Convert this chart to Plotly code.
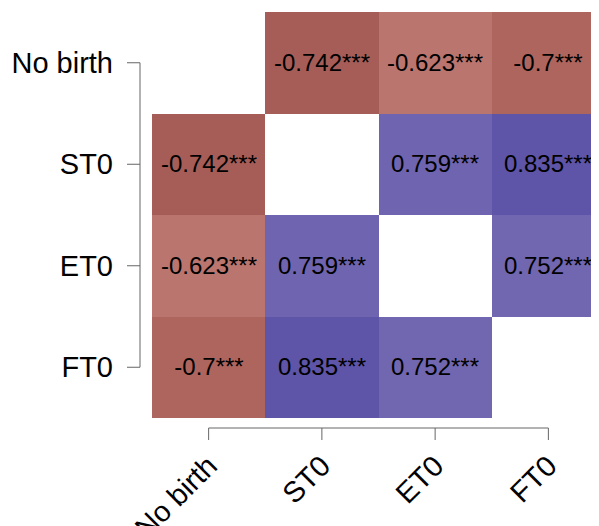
import plotly.graph_objects as go

categories = ["No birth", "ST0", "ET0", "FT0"]
corr = [
    [None, -0.742, -0.623, -0.7],
    [-0.742, None, 0.759, 0.835],
    [-0.623, 0.759, None, 0.752],
    [-0.7, 0.835, 0.752, None],
]
stars = [
    ["", "***", "***", "***"],
    ["***", "", "***", "***"],
    ["***", "***", "", "***"],
    ["***", "***", "***", ""],
]

text = [[("" if v is None else f"{v:g}{s}") for v, s in zip(rv, rs)] for rv, rs in zip(corr, stars)]

colorscale = [
    [0.0, "rgb(120,45,40)"],
    [0.129, "rgb(166,93,87)"],
    [0.15, "rgb(174,101,93)"],
    [0.1885, "rgb(185,117,110)"],
    [0.5, "rgb(255,255,255)"],
    [0.876, "rgb(113,102,176)"],
    [0.8795, "rgb(111,100,175)"],
    [0.9175, "rgb(94,84,168)"],
    [1.0, "rgb(60,50,145)"],
]

fig = go.Figure(go.Heatmap(
    z=corr, x=categories, y=categories, text=text,
    texttemplate="%{text}", textfont=dict(size=24, color="black", family="Liberation Sans"),
    colorscale=colorscale, zmin=-1, zmax=1, showscale=False, hoverongaps=False,
))

line_col = "#666666"
shapes = []
# y axis line and ticks (offset left of plot)
shapes.append(dict(type="line", xref="paper", xsizemode="pixel", xanchor=0, x0=-12, x1=-12,
                   yref="y", y0=categories[0], y1=categories[-1], line=dict(color=line_col, width=1)))
for c in categories:
    shapes.append(dict(type="line", xref="paper", xsizemode="pixel", xanchor=0, x0=-25, x1=-12,
                       yref="y", y0=c, y1=c, line=dict(color=line_col, width=1)))
# x axis line and ticks (offset below plot)
shapes.append(dict(type="line", yref="paper", ysizemode="pixel", yanchor=0, y0=-10, y1=-10,
                   xref="x", x0=categories[0], x1=categories[-1], line=dict(color=line_col, width=1)))
for c in categories:
    shapes.append(dict(type="line", yref="paper", ysizemode="pixel", yanchor=0, y0=-10, y1=-22,
                       xref="x", x0=c, x1=c, line=dict(color=line_col, width=1)))

fig.update_layout(
    width=599, height=526,
    margin=dict(l=144, r=2, t=4, b=116),
    plot_bgcolor="white", paper_bgcolor="white",
    font=dict(family="Liberation Sans", size=29, color="black"),
    shapes=shapes,
    xaxis=dict(range=[-0.5, 3.5], showgrid=False, zeroline=False, showline=False, automargin=False,
               ticks="", tickangle=-45, ticklabelstandoff=24, tickfont=dict(size=29)),
    yaxis=dict(autorange="reversed", showgrid=False, zeroline=False, showline=False, automargin=False,
               ticks="", ticklabelstandoff=38, tickfont=dict(size=29)),
)

fig.write_html("out.html")
